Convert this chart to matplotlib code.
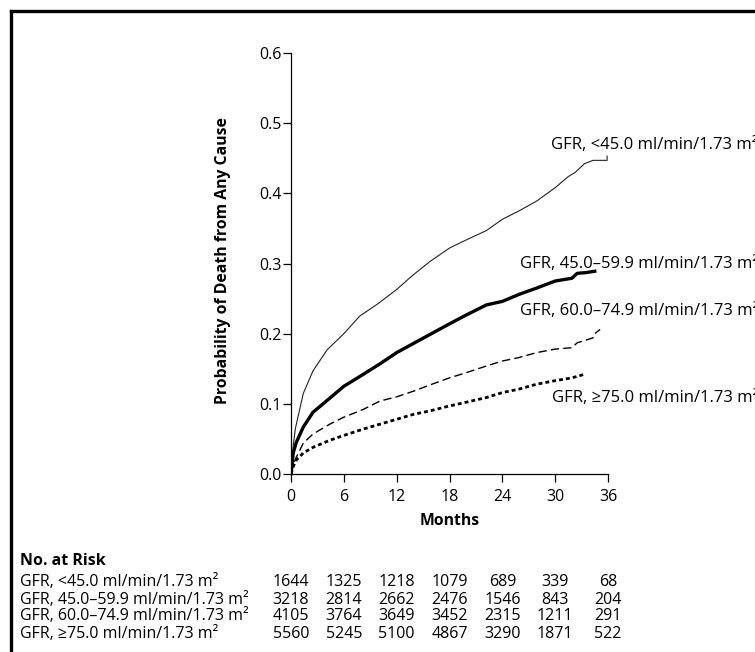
import matplotlib
matplotlib.use('Agg')
import matplotlib.pyplot as plt
from matplotlib.lines import Line2D
from matplotlib.transforms import blended_transform_factory

plt.rcParams['font.family'] = ['Open Sans', 'DejaVu Sans']

# Kaplan-Meier style curves (months, probability)
t_lt45 = [0, 0.25, 0.5, 1.4, 2.5, 4.1, 6, 7.8, 9.8, 12, 13.8, 15.8, 18, 19.8,
          22.2, 24, 25.9, 27.9, 30, 31.5, 32.3, 33.3, 34.3, 35.9, 35.9]
p_lt45 = [0, 0.04, 0.065, 0.115, 0.147, 0.177, 0.2, 0.225, 0.242, 0.263, 0.283,
          0.303, 0.322, 0.333, 0.347, 0.363, 0.375, 0.389, 0.408, 0.424, 0.43,
          0.442, 0.447, 0.447, 0.453]

t_45 = [0, 0.25, 0.6, 1.4, 2.5, 4.4, 6, 8.2, 10.1, 12, 13.9, 15.8, 18, 19.8,
        22.2, 24, 25.9, 27.9, 30, 31.9, 32.5, 33.5, 34.5]
p_45 = [0, 0.03, 0.045, 0.067, 0.088, 0.108, 0.125, 0.142, 0.157, 0.173, 0.186,
        0.199, 0.214, 0.226, 0.241, 0.246, 0.256, 0.265, 0.275, 0.279, 0.286,
        0.287, 0.289]

t_60 = [0, 0.3, 0.6, 1.4, 2.5, 4.4, 6, 8.2, 10.1, 12, 13.9, 15.8, 18, 19.8,
        22.2, 24, 25.9, 27.9, 30, 31.9, 32.5, 34.3, 34.5, 35.1]
p_60 = [0, 0.015, 0.024, 0.044, 0.057, 0.071, 0.081, 0.092, 0.104, 0.11, 0.118,
        0.127, 0.137, 0.144, 0.154, 0.161, 0.166, 0.173, 0.178, 0.18, 0.187,
        0.194, 0.2, 0.206]

t_75 = [0, 0.3, 0.6, 1.4, 2.5, 4.4, 6, 8.2, 10.1, 12, 13.9, 15.8, 18, 19.8,
        22.2, 24, 25.9, 27.9, 30, 31.9, 33.3]
p_75 = [0, 0.012, 0.02, 0.03, 0.038, 0.048, 0.055, 0.064, 0.071, 0.078, 0.085,
        0.09, 0.097, 0.102, 0.109, 0.116, 0.121, 0.128, 0.133, 0.137, 0.142]

groups = ['GFR, <45.0 ml/min/1.73 m\u00b2',
          'GFR, 45.0\u201359.9 ml/min/1.73 m\u00b2',
          'GFR, 60.0\u201374.9 ml/min/1.73 m\u00b2',
          'GFR, \u226575.0 ml/min/1.73 m\u00b2']
label_y = [0.469, 0.300, 0.232, 0.109]

risk_months = [0, 6, 12, 18, 24, 30, 36]
at_risk = [
    [1644, 1325, 1218, 1079, 689, 339, 68],
    [3218, 2814, 2662, 2476, 1546, 843, 204],
    [4105, 3764, 3649, 3452, 2315, 1211, 291],
    [5560, 5245, 5100, 4867, 3290, 1871, 522],
]

W, H = 755, 652
fig = plt.figure(figsize=(W / 100, H / 100), dpi=100)
ax = fig.add_axes([291 / W, 1 - 474 / H, 317 / W, 421 / H])

ax.plot(t_lt45, p_lt45, color='#222222', lw=0.8)
ax.plot(t_45, p_45, color='black', lw=2.4)
ax.plot(t_60, p_60, color='black', lw=1.0, dashes=(6, 3))
ax.plot(t_75, p_75, color='black', lw=2.0, dashes=(1.4, 1.1))

ax.set_xlim(0, 36)
ax.set_ylim(0, 0.6)
ax.set_xticks(risk_months)
ax.set_yticks([0.0, 0.1, 0.2, 0.3, 0.4, 0.5, 0.6])
ax.set_yticklabels(['%.1f' % v for v in ax.get_yticks()])
for s in ['top', 'right']:
    ax.spines[s].set_visible(False)
for s in ['left', 'bottom']:
    ax.spines[s].set_linewidth(0.9)
ax.tick_params(direction='out', length=6, width=0.9, labelsize=11.5, pad=1)
ax.tick_params(axis='x', pad=5)
ax.set_facecolor('none')

ax.set_xlabel('Months', fontsize=11.3, fontweight='bold')
ax.xaxis.set_label_coords(0.5, -0.093)
ax.set_ylabel('Probability of Death from Any Cause', fontsize=11.3,
              fontweight='bold', va='center')
ax.yaxis.set_label_coords(-0.2145, 0.506)

# curve labels, right aligned at the figure edge
lab_tf = blended_transform_factory(fig.transFigure, ax.transData)
for name, y in zip(groups, label_y):
    ax.text(1.004, y, name, transform=lab_tf, ha='right', va='center',
            fontsize=12, clip_on=False)

# number at risk table, counts centred under the month ticks
row_base = [586, 603.5, 620.5, 638]
fig.text(20 / W, 1 - 565 / H, 'No. at Risk', fontsize=11.5, fontweight='bold',
         va='baseline')
tbl_tf = blended_transform_factory(ax.transData, fig.transFigure)
for name, counts, yb in zip(groups, at_risk, row_base):
    fig.text(20 / W, 1 - yb / H, name, fontsize=11.5, va='baseline')
    for m, n in zip(risk_months, counts):
        ax.text(m, 1 - yb / H, str(n), transform=tbl_tf, ha='center',
                va='baseline', fontsize=11.5, clip_on=False)

# frame lines at top and left of the panel
fig.add_artist(Line2D([11 / W, 1], [1 - 11 / H] * 2, lw=2.4, color='black',
                      transform=fig.transFigure))
fig.add_artist(Line2D([11 / W] * 2, [0, 1 - 11 / H], lw=2.4, color='black',
                      transform=fig.transFigure))

fig.savefig('out.png', dpi=100)
